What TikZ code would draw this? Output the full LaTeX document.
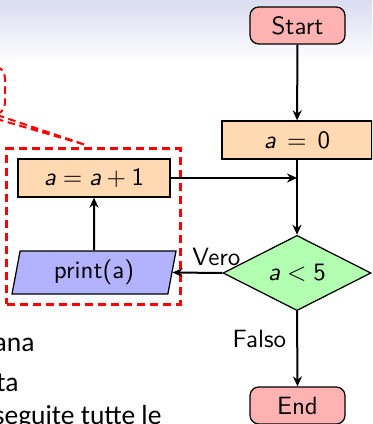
\documentclass[tikz,border=0pt]{standalone}
\usepackage{fontspec}
\newfontfamily\slidefont{Carlito}
\usetikzlibrary{shapes.geometric,arrows.meta}
% sans-serif italic variable, as in beamer's sans math
\newcommand\mva{\textsf{\itshape a}}
\begin{document}
\begin{tikzpicture}[x=0.4pt,y=-0.4pt,
  base/.style={draw=black, line width=0.5pt, inner sep=0pt, font=\sffamily},
  terminal/.style={base, rounded corners=3.5pt, fill=red!30, minimum width=38pt, minimum height=14.8pt},
  process/.style={base, fill=orange!30, minimum width=60pt, minimum height=15.2pt},
  decision/.style={base, diamond, fill=green!30, minimum width=59.2pt, minimum height=28.8pt},
  io/.style={base, trapezium, trapezium left angle=72, trapezium right angle=108,
    trapezium stretches body, fill=blue!30, minimum width=65.6pt, minimum height=17.2pt},
  flow/.style={line width=0.8pt, -{Stealth[length=4pt,width=3.6pt,inset=1.3pt]}},
  loopbox/.style={draw=red, line width=1.2pt, dash pattern=on 3.2pt off 2pt, inner sep=0pt},
  callout/.style={draw=red, line width=0.8pt, dash pattern=on 3pt off 1.8pt},
  lbl/.style={font=\sffamily, inner sep=2pt},
  slidetext/.style={font=\slidefont\fontsize{11}{13}\selectfont, inner sep=0pt},
]
\useasboundingbox (0,0) rectangle (372,424);
\clip (0,0) rectangle (372,424);

% frame header shading
\shade[top color={rgb,255:red,218;green,220;blue,240}, bottom color=white]
  (0,0) rectangle (372,62);

% note callout reaching in from the left
\draw[callout, rounded corners=4.8pt] (-40,66) -- (5,66) -- (5,115) -- (-40,115);
\draw[callout] (-3,115) -- (86,145) -- (-17,115);

% loop body highlight
\node[loopbox, minimum width=69.2pt, minimum height=62pt] (loop) at (93.5,226.5) {};

% flowchart nodes
\node[terminal] (start) at (297.5,25.5) {Start};
\node[process] (init) at (297,140) {$\mva\mskip3mu=\mskip3mu\textsf{0}$};
\node[decision] (test) at (297,273) {$\mva<\textsf{5}$};
\node[terminal] (stop) at (297.5,405.5) {End};
\node[process, minimum width=60.8pt] (inc) at (94,178) {$\mva=\mva+\textsf{1}$};
\node[io] (out) at (94,272.5) {print(a)};

% connectors
\draw[flow] (start) -- (init);
\draw[flow] (init) -- (test);
\draw[flow] (inc.east) -- (inc.east -| init.south);
\draw[flow] (test.west) -- node[lbl, above, pos=0.12, yshift=0.6pt] {Vero} (out.east);
\draw[flow] (out.north) -- (inc.south);
\draw[flow] (test.south) -- node[lbl, left, pos=0.37, xshift=-2pt] {Falso} (stop.north);

% slide text
\node[slidetext, anchor=base east] (t1) at (35,351) {ana};
\node[slidetext, anchor=base east] (t2) at (19,391) {ta};
\node[slidetext, anchor=base east] (t3) at (162,424) {seguite tutte le};
\end{tikzpicture}
\end{document}
